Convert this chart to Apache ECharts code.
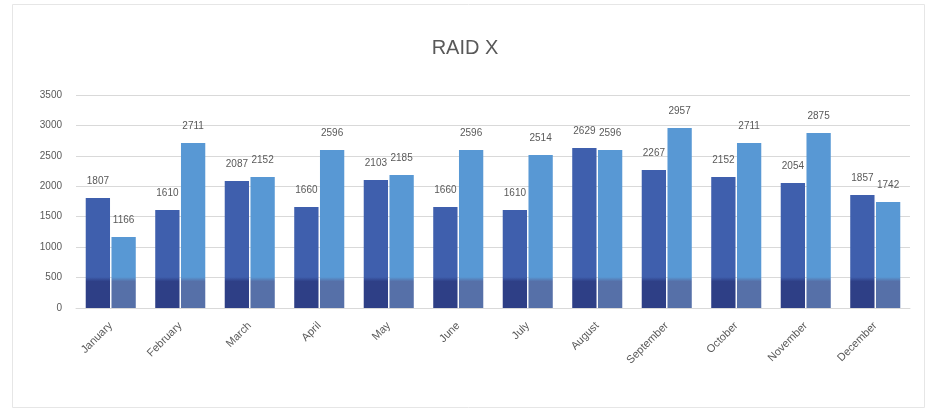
<!DOCTYPE html>
<html>
<head>
<meta charset="utf-8">
<script src="https://cdn.jsdelivr.net/npm/echarts@6/dist/echarts.min.js"></script>
<style>
html,body{margin:0;padding:0;background:#fff;}
#c{width:930px;height:414px;}
</style>
</head>
<body>
<div id="c"></div>
<script>
const title = "RAID X";
const categories = ["January","February","March","April","May","June","July","August","September","October","November","December"];
const seriesA = [1807, 1610, 2087, 1660, 2103, 1660, 1610, 2629, 2267, 2152, 2054, 1857];
const seriesB = [1166, 2711, 2152, 2596, 2185, 2596, 2514, 2596, 2957, 2711, 2875, 1742];
const yMin = 0, yMax = 3500, yStep = 500;

const chart = echarts.init(document.getElementById('c'), null, {renderer:'canvas'});
// gradient in plot-area pixel space so the darker foot has the same height on every bar
function grad(top, bottom){
  return new echarts.graphic.LinearGradient(0,95,0,308,[
    {offset:0,color:top},{offset:0.855,color:top},{offset:0.875,color:bottom},{offset:1,color:bottom}
  ], true);
}
const font = 'Liberation Sans, Arial';
const labelStyle = {show:true, position:'top', distance:12, color:'#595959', fontSize:10, fontFamily:font};
chart.setOption({
  animation:false,
  backgroundColor:'#ffffff',
  graphic:[{type:'rect', shape:{x:12.5, y:4.5, width:912, height:403}, style:{fill:'none', stroke:'#e6e6e6', lineWidth:1}, silent:true}],
  title:{text:title, left:'center', top:33, textStyle:{fontSize:20, fontWeight:'normal', color:'#595959', fontFamily:font}},
  grid:{left:76, right:20, top:95, bottom:106, containLabel:false},
  xAxis:{type:'category', data:categories,
    axisLine:{lineStyle:{color:'#d9d9d9'}}, axisTick:{show:false},
    axisLabel:{rotate:45, color:'#595959', fontSize:11, margin:16, interval:0, fontFamily:font}},
  yAxis:{type:'value', min:yMin, max:yMax, interval:yStep,
    axisLine:{show:false}, axisTick:{show:false},
    splitLine:{lineStyle:{color:'#d9d9d9'}},
    axisLabel:{color:'#595959', fontSize:10, margin:14, fontFamily:font, formatter:(v)=>String(v)}},
  series:[
    {type:'bar', data:seriesA, barGap:'6%', barCategoryGap:'28%',
     itemStyle:{color:grad('#3f5fad','#2e3f86')}, label:labelStyle},
    {type:'bar', data:seriesB,
     itemStyle:{color:grad('#5898d4','#5670a8')}, label:labelStyle}
  ]
});
</script>
</body>
</html>
